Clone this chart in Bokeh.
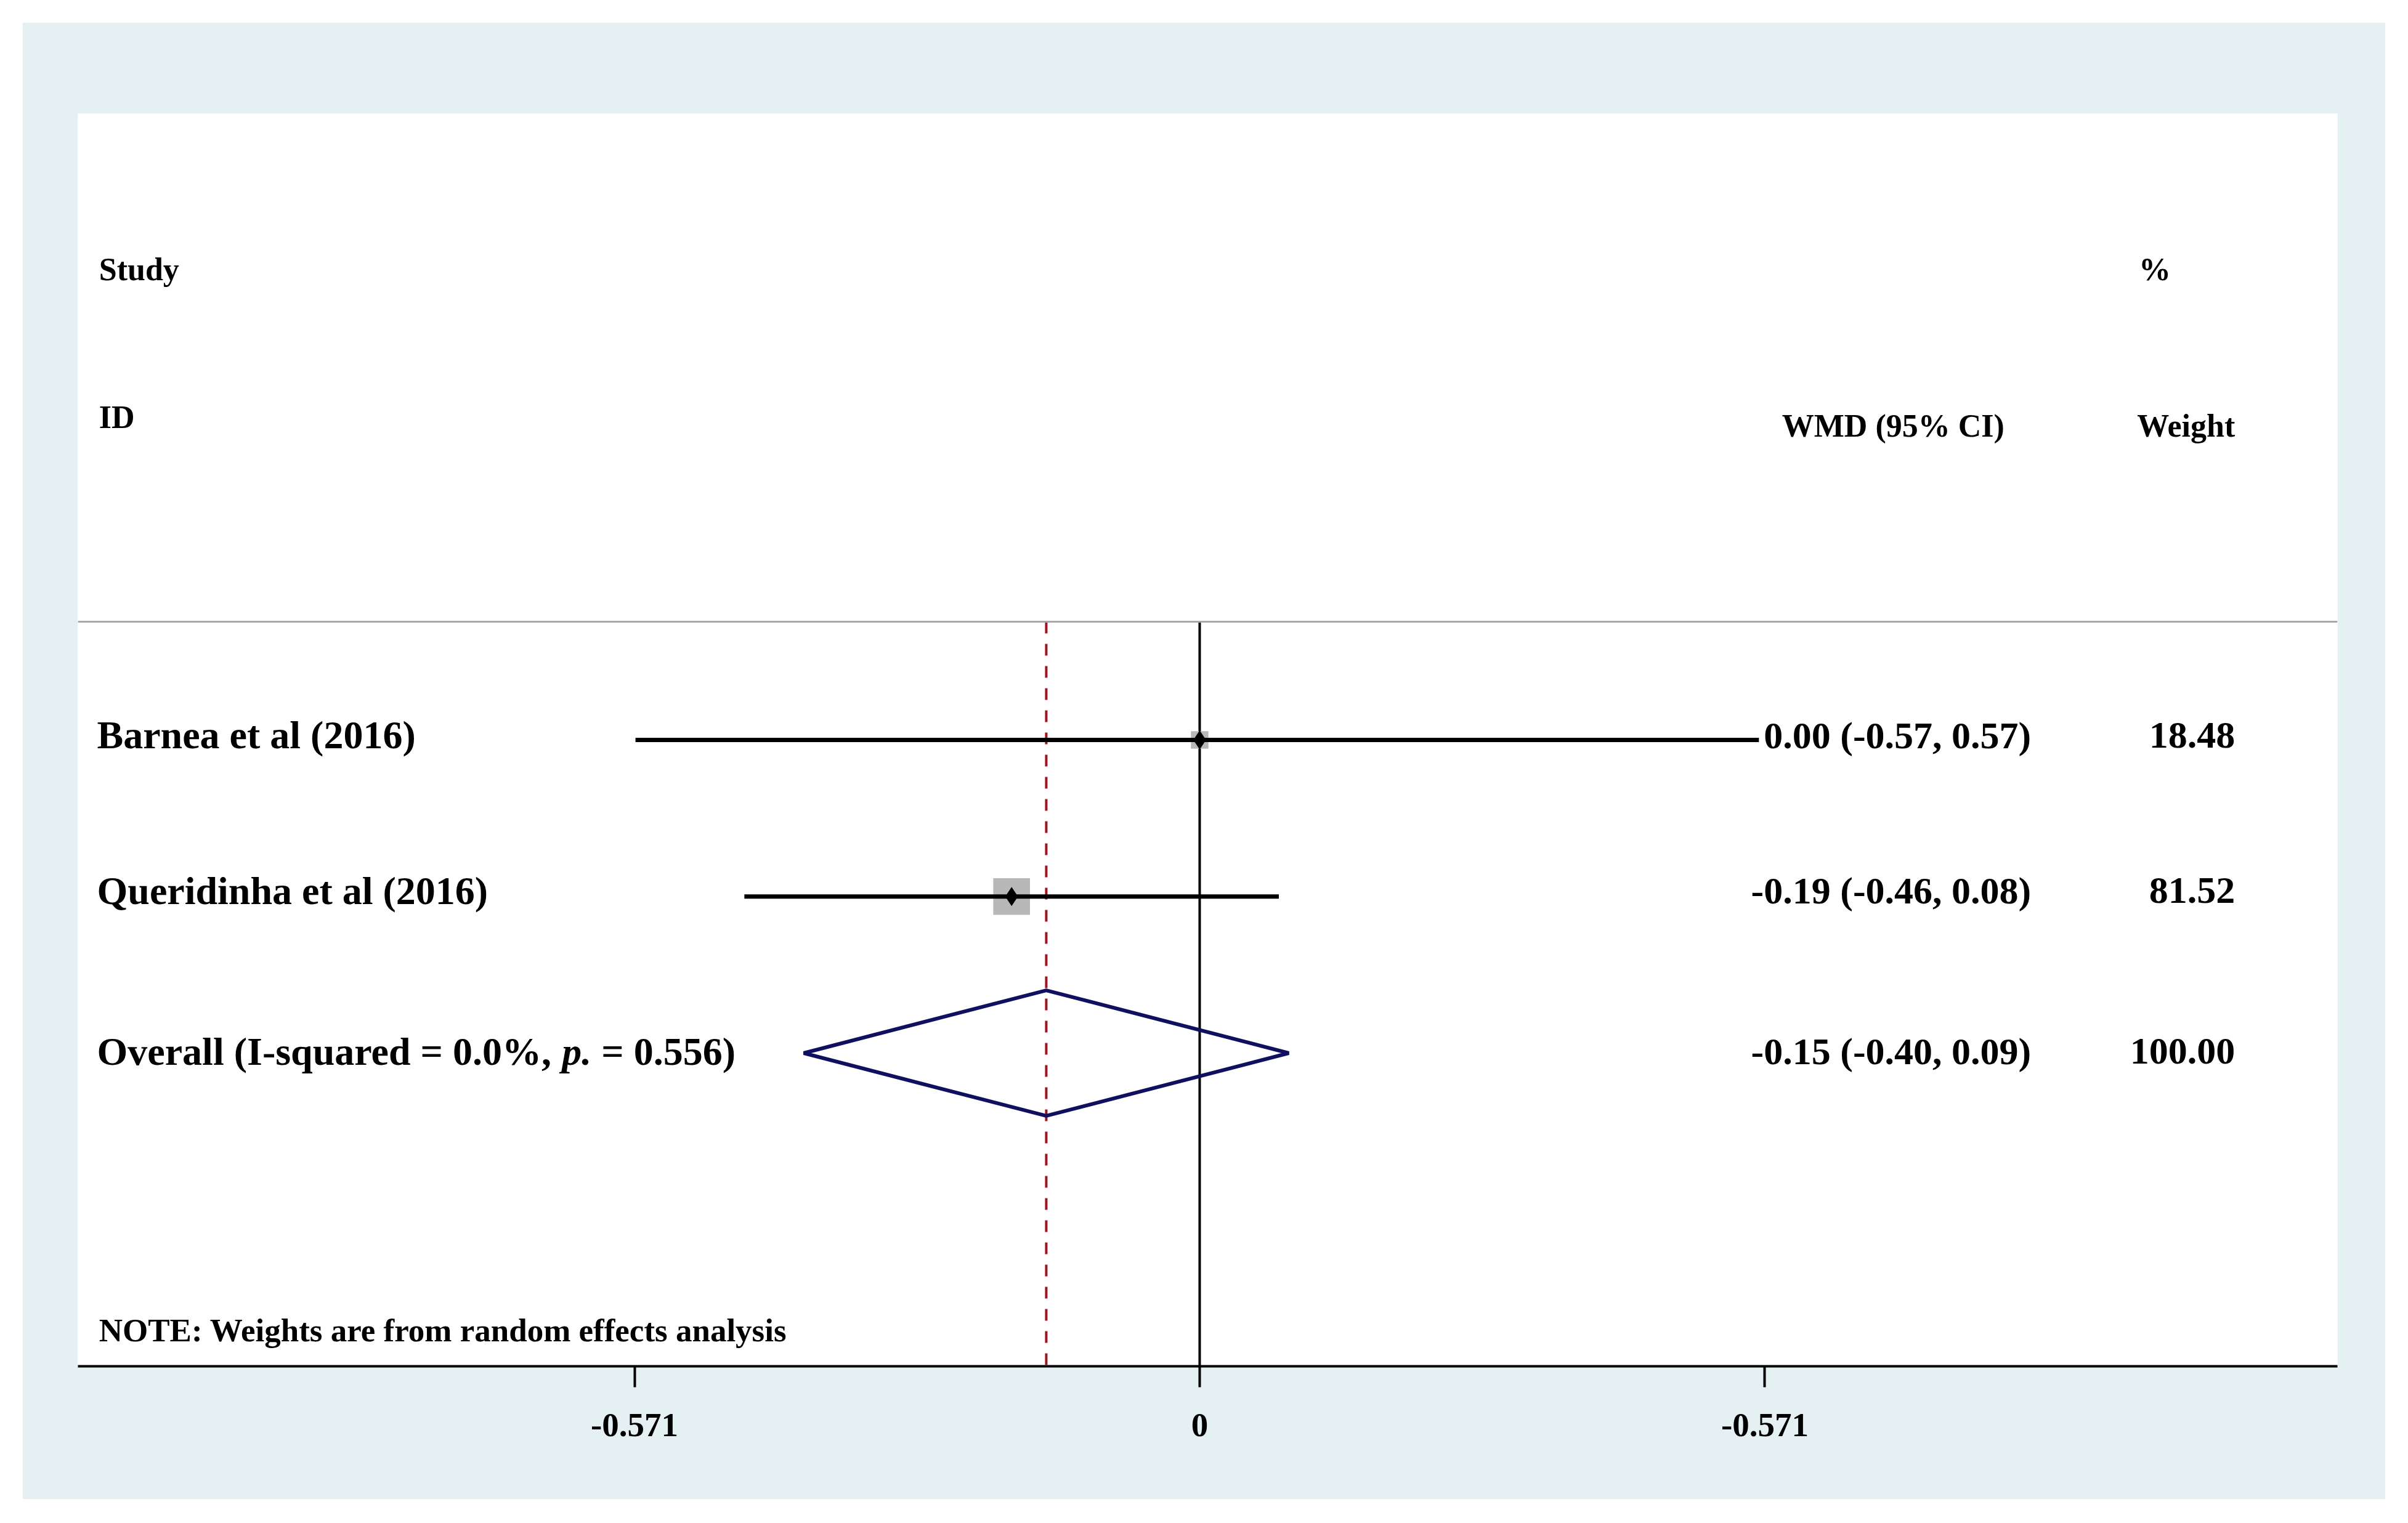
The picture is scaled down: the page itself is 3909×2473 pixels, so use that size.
import math
from bokeh.plotting import figure
from bokeh.models import Range1d, FixedTicker, Span
from bokeh.core.properties import value
from bokeh.embed import file_html
from bokeh.resources import INLINE

# ---------------- data ----------------
studies = ["Barnea et al (2016)", "Queridinha et al (2016)"]
wmd = [0.00, -0.19]
ci_low = [-0.57, -0.46]
ci_high = [0.565, 0.08]
weights = [18.48, 81.52]
ci_text = ["0.00 (-0.57, 0.57)", "-0.19 (-0.46, 0.08)"]
weight_text = ["18.48", "81.52"]

overall_label_parts = ["Overall (I-squared = 0.0%,", "p.", "= 0.556)"]
overall_wmd = -0.155
overall_low = -0.40
overall_high = 0.09
overall_ci_text = "-0.15 (-0.40, 0.09)"
overall_weight_text = "100.00"

tick_values = [-0.571, 0.0, 0.571]
tick_labels = ["-0.571", "0", "-0.571"]

header_left = ["Study", "ID"]
header_ci = "WMD (95% CI)"
header_weight = ["%", "Weight"]
note_text = "NOTE: Weights are from random effects analysis"

# ---------------- layout ----------------
study_rows = [4, 5]
overall_row = 6
line_top = 3.245
FONT = value("Liberation Serif")
BG = "#e4f0f2"

p = figure(width=3836, height=2398,
           x_range=Range1d(-1.1333, 1.1495), y_range=Range1d(8, 0),
           output_backend="svg", toolbar_location=None,
           y_axis_location=None,
           min_border_left=90, min_border_right=78,
           min_border_top=148, min_border_bottom=216,
           border_fill_color=BG, background_fill_color="white",
           outline_line_color=None)
p.margin = (36, 0, 0, 36)
p.grid.visible = False

ax = p.xaxis[0]
ax.ticker = FixedTicker(ticks=tick_values)
ax.major_label_overrides = {v: s for v, s in zip(tick_values, tick_labels)}
ax.axis_line_width = 4
ax.axis_line_color = "black"
ax.major_tick_line_width = 4
ax.major_tick_out = 34
ax.major_tick_in = 0
ax.minor_tick_line_color = None
ax.major_label_text_font = "Liberation Serif"
ax.major_label_text_font_style = "bold"
ax.major_label_text_font_size = "55px"
ax.major_label_text_color = "black"
ax.major_label_standoff = 43

# header separator line
p.add_layout(Span(location=line_top, dimension="width", line_color="#a8a8a8", line_width=3))

# reference lines
p.segment(x0=[0], y0=[line_top], x1=[0], y1=[8], line_color="black", line_width=4)
p.segment(x0=[overall_wmd], y0=[line_top], x1=[overall_wmd], y1=[8],
          line_color="#a3121f", line_width=4, line_dash="19 17")

# weight squares
sizes = [6.6 * math.sqrt(w) for w in weights]
p.scatter(x=wmd, y=study_rows, marker="square", size=sizes,
          fill_color="#b8b8b8", line_color=None)

# CI lines
p.segment(x0=ci_low, y0=study_rows, x1=ci_high, y1=study_rows,
          line_color="black", line_width=7)

# point estimates
p.scatter(x=wmd, y=study_rows, marker="diamond", size=31,
          fill_color="black", line_color=None)

# overall diamond
p.patch(x=[overall_low, overall_wmd, overall_high, overall_wmd],
        y=[overall_row, overall_row - 0.401, overall_row, overall_row + 0.401],
        fill_color=None, line_color="#101060", line_width=6)

# ---------------- texts ----------------
def txt(x, y, t, size, align="left", style="bold"):
    p.text(x=x, y=y, text=t, text_font=FONT, text_font_style=style,
           text_font_size=size, text_align=align, text_baseline="alphabetic",
           text_color="black")

# headers
txt([-1.112], [0.995], [header_left[0]], "52px")
txt([-1.112], [1.941], [header_left[1]], "52px")
txt([0.813], [1.994], [header_ci], "52px", align="right")
txt([0.965], [0.995], [header_weight[0]], "52px", align="center")
txt([1.046], [1.994], [header_weight[1]], "52px", align="right")

# study rows
row_base = [3.97, 4.962]
txt([-1.114] * len(studies), row_base, studies, "64px")
txt([0.840] * len(studies), row_base, ci_text, "62px", align="right")
txt([1.046] * len(studies), row_base, weight_text, "62px", align="right")

# overall row
ob = 5.99
txt([-1.114], [ob], [overall_label_parts[0]], "64px")
txt([-0.6443], [ob], [overall_label_parts[1]], "64px", style="bold italic")
txt([-0.6045], [ob], [overall_label_parts[2]], "64px")
txt([0.840], [ob], [overall_ci_text], "62px", align="right")
txt([1.046], [ob], [overall_weight_text], "62px", align="right")

# note
txt([-1.112], [7.77], [note_text], "53px")

open("out.html", "w").write(file_html(p, INLINE))
